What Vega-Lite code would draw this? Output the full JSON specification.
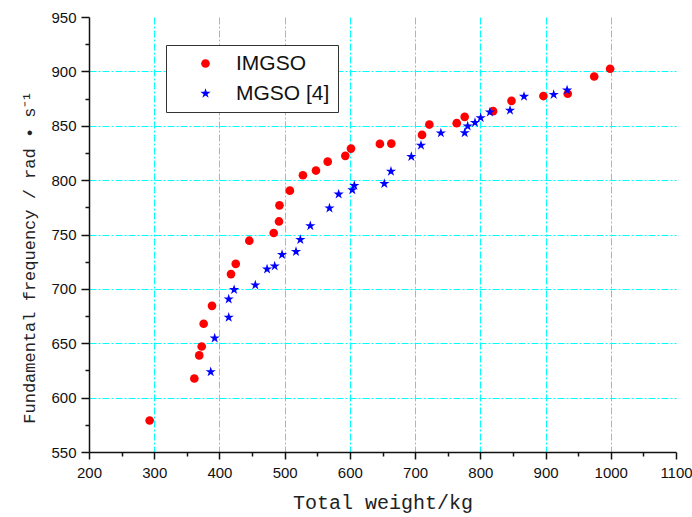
{
  "$schema": "https://vega.github.io/schema/vega-lite/v6.json",
  "width": 587,
  "height": 435,
  "autosize": "none",
  "padding": {"left": 89, "top": 17, "right": 16, "bottom": 65},
  "background": "white",
  "view": {"stroke": null},
  "data": {
    "values": [
      {"series": "IMGSO", "weight": 293, "freq": 579},
      {"series": "IMGSO", "weight": 361.5, "freq": 617.6},
      {"series": "IMGSO", "weight": 369, "freq": 638.8},
      {"series": "IMGSO", "weight": 372.8, "freq": 647},
      {"series": "IMGSO", "weight": 375.8, "freq": 667.9},
      {"series": "IMGSO", "weight": 388.6, "freq": 684.4},
      {"series": "IMGSO", "weight": 417.7, "freq": 713.6},
      {"series": "IMGSO", "weight": 425, "freq": 723},
      {"series": "IMGSO", "weight": 445.8, "freq": 744.3},
      {"series": "IMGSO", "weight": 483.2, "freq": 751.4},
      {"series": "IMGSO", "weight": 491.3, "freq": 762},
      {"series": "IMGSO", "weight": 492, "freq": 776.8},
      {"series": "IMGSO", "weight": 508, "freq": 790.3},
      {"series": "IMGSO", "weight": 528, "freq": 804.5},
      {"series": "IMGSO", "weight": 548, "freq": 808.8},
      {"series": "IMGSO", "weight": 566, "freq": 817},
      {"series": "IMGSO", "weight": 593, "freq": 822.3},
      {"series": "IMGSO", "weight": 601.7, "freq": 829},
      {"series": "IMGSO", "weight": 646, "freq": 833.3},
      {"series": "IMGSO", "weight": 663.5, "freq": 833.6},
      {"series": "IMGSO", "weight": 710.6, "freq": 841.6},
      {"series": "IMGSO", "weight": 721.8, "freq": 851.1},
      {"series": "IMGSO", "weight": 763.8, "freq": 852.4},
      {"series": "IMGSO", "weight": 776, "freq": 858.2},
      {"series": "IMGSO", "weight": 819.5, "freq": 863.4},
      {"series": "IMGSO", "weight": 847.8, "freq": 872.9},
      {"series": "IMGSO", "weight": 896.7, "freq": 877.3},
      {"series": "IMGSO", "weight": 934, "freq": 879.4},
      {"series": "IMGSO", "weight": 974.6, "freq": 895.3},
      {"series": "IMGSO", "weight": 999, "freq": 902.4},
      {"series": "MGSO [4]", "weight": 386.6, "freq": 623.7},
      {"series": "MGSO [4]", "weight": 392.7, "freq": 654.7},
      {"series": "MGSO [4]", "weight": 414.2, "freq": 673.8},
      {"series": "MGSO [4]", "weight": 414.2, "freq": 690.6},
      {"series": "MGSO [4]", "weight": 422.5, "freq": 699.2},
      {"series": "MGSO [4]", "weight": 455, "freq": 703.5},
      {"series": "MGSO [4]", "weight": 473, "freq": 718.2},
      {"series": "MGSO [4]", "weight": 484.7, "freq": 721},
      {"series": "MGSO [4]", "weight": 496, "freq": 731.4},
      {"series": "MGSO [4]", "weight": 517.4, "freq": 734.2},
      {"series": "MGSO [4]", "weight": 524, "freq": 745.3},
      {"series": "MGSO [4]", "weight": 539.3, "freq": 758},
      {"series": "MGSO [4]", "weight": 568.7, "freq": 774.2},
      {"series": "MGSO [4]", "weight": 582.8, "freq": 787},
      {"series": "MGSO [4]", "weight": 603.7, "freq": 791},
      {"series": "MGSO [4]", "weight": 606.8, "freq": 795},
      {"series": "MGSO [4]", "weight": 652.8, "freq": 796.8},
      {"series": "MGSO [4]", "weight": 663, "freq": 808},
      {"series": "MGSO [4]", "weight": 694.2, "freq": 821.6},
      {"series": "MGSO [4]", "weight": 709, "freq": 832},
      {"series": "MGSO [4]", "weight": 739.5, "freq": 843.3},
      {"series": "MGSO [4]", "weight": 776, "freq": 843.4},
      {"series": "MGSO [4]", "weight": 780.6, "freq": 849.6},
      {"series": "MGSO [4]", "weight": 791.8, "freq": 852.9},
      {"series": "MGSO [4]", "weight": 800.5, "freq": 857.3},
      {"series": "MGSO [4]", "weight": 814.7, "freq": 862.5},
      {"series": "MGSO [4]", "weight": 845.5, "freq": 864.2},
      {"series": "MGSO [4]", "weight": 867, "freq": 876.9},
      {"series": "MGSO [4]", "weight": 912.5, "freq": 878.7},
      {"series": "MGSO [4]", "weight": 933, "freq": 882.8}
    ]
  },
  "resolve": {"axis": {"x": "independent", "y": "independent"}},
  "layer": [
    {
      "mark": {"type": "point", "filled": false, "opacity": 0, "size": 1},
      "encoding": {
        "x": {
          "field": "weight",
          "type": "quantitative",
          "scale": {"domain": [200, 1100], "nice": false, "zero": false},
          "axis": {
            "orient": "bottom",
            "title": null,
            "values": [250, 350, 450, 550, 650, 750, 850, 950, 1050],
            "labels": false,
            "domain": false,
            "grid": false,
            "ticks": true,
            "tickSize": 4,
            "tickWidth": 1.5,
            "tickColor": "#111"
          }
        },
        "y": {
          "field": "freq",
          "type": "quantitative",
          "scale": {"domain": [550, 950], "nice": false, "zero": false},
          "axis": {
            "orient": "left",
            "title": null,
            "values": [575, 625, 675, 725, 775, 825, 875, 925],
            "labels": false,
            "domain": false,
            "grid": false,
            "ticks": true,
            "tickSize": 4,
            "tickWidth": 1.5,
            "tickColor": "#111"
          }
        }
      }
    },
    {
      "mark": {"type": "point", "filled": true, "opacity": 1},
      "encoding": {
        "x": {
          "field": "weight",
          "type": "quantitative",
          "scale": {"domain": [200, 1100], "nice": false, "zero": false},
          "axis": {
            "orient": "bottom",
            "title": "Total weight/kg",
            "titleFont": "Liberation Mono",
            "titleFontSize": 20,
            "titleFontWeight": "normal",
            "titleColor": "#222",
            "titlePadding": 12,
            "values": [200, 300, 400, 500, 600, 700, 800, 900, 1000, 1100],
            "format": "d",
            "labelFont": "Liberation Sans",
            "labelFontSize": 15,
            "labelColor": "#111",
            "labelPadding": 6,
            "labelFlush": false,
            "labelOverlap": false,
            "domainColor": "#111",
            "domainWidth": 1.5,
            "tickColor": "#111",
            "tickWidth": 1.5,
            "tickSize": 7,
            "grid": true,
            "gridColor": "#00FFFF",
            "gridDash": [7, 2, 2, 2],
            "gridWidth": 1,
            "gridOpacity": {"condition": {"test": "datum.value > 200 && datum.value < 1100", "value": 1}, "value": 0}
          }
        },
        "y": {
          "field": "freq",
          "type": "quantitative",
          "scale": {"domain": [550, 950], "nice": false, "zero": false},
          "axis": {
            "orient": "left",
            "title": "Fundamental frequency / rad • s⁻¹",
            "titleFont": "Liberation Mono",
            "titleFontSize": 17,
            "titleFontWeight": "normal",
            "titleColor": "#222",
            "titlePadding": 12,
            "titleY": 240,
            "values": [550, 600, 650, 700, 750, 800, 850, 900, 950],
            "format": "d",
            "labelFont": "Liberation Sans",
            "labelFontSize": 15,
            "labelColor": "#111",
            "labelPadding": 5,
            "labelFlush": false,
            "labelOverlap": false,
            "domainColor": "#111",
            "domainWidth": 1.5,
            "tickColor": "#111",
            "tickWidth": 1.5,
            "tickSize": 8,
            "grid": true,
            "gridColor": "#00FFFF",
            "gridDash": [7, 2, 2, 2],
            "gridWidth": 1,
            "gridOpacity": {"condition": {"test": "datum.value > 550 && datum.value < 950", "value": 1}, "value": 0}
          }
        },
        "size": {
          "field": "series",
          "type": "nominal",
          "scale": {"domain": ["IMGSO", "MGSO [4]"], "range": [75, 115]},
          "legend": null
        },
        "color": {
          "field": "series",
          "type": "nominal",
          "scale": {"domain": ["IMGSO", "MGSO [4]"], "range": ["#FF0000", "#0000FF"]},
          "legend": {
            "title": null,
            "orient": "none",
            "legendX": 77,
            "legendY": 28,
            "fillColor": "white",
            "strokeColor": "#333",
            "padding": 8,
            "symbolOffset": 21,
            "labelOffset": 20,
            "labelFont": "Liberation Sans",
            "labelFontSize": 21,
            "labelColor": "#111",
            "rowPadding": 8,
            "symbolSize": 55
          }
        },
        "shape": {
          "field": "series",
          "type": "nominal",
          "scale": {"domain": ["IMGSO", "MGSO [4]"], "range": ["circle", "M0,-1L0.225,-0.309L0.951,-0.309L0.363,0.118L0.588,0.809L0,0.382L-0.588,0.809L-0.363,0.118L-0.951,-0.309L-0.225,-0.309Z"]},
          "legend": {
            "title": null,
            "orient": "none",
            "legendX": 77,
            "legendY": 28,
            "fillColor": "white",
            "strokeColor": "#333",
            "padding": 8,
            "symbolOffset": 21,
            "labelOffset": 20,
            "labelFont": "Liberation Sans",
            "labelFontSize": 21,
            "labelColor": "#111",
            "rowPadding": 8,
            "symbolSize": 55
          }
        }
      }
    }
  ]
}
